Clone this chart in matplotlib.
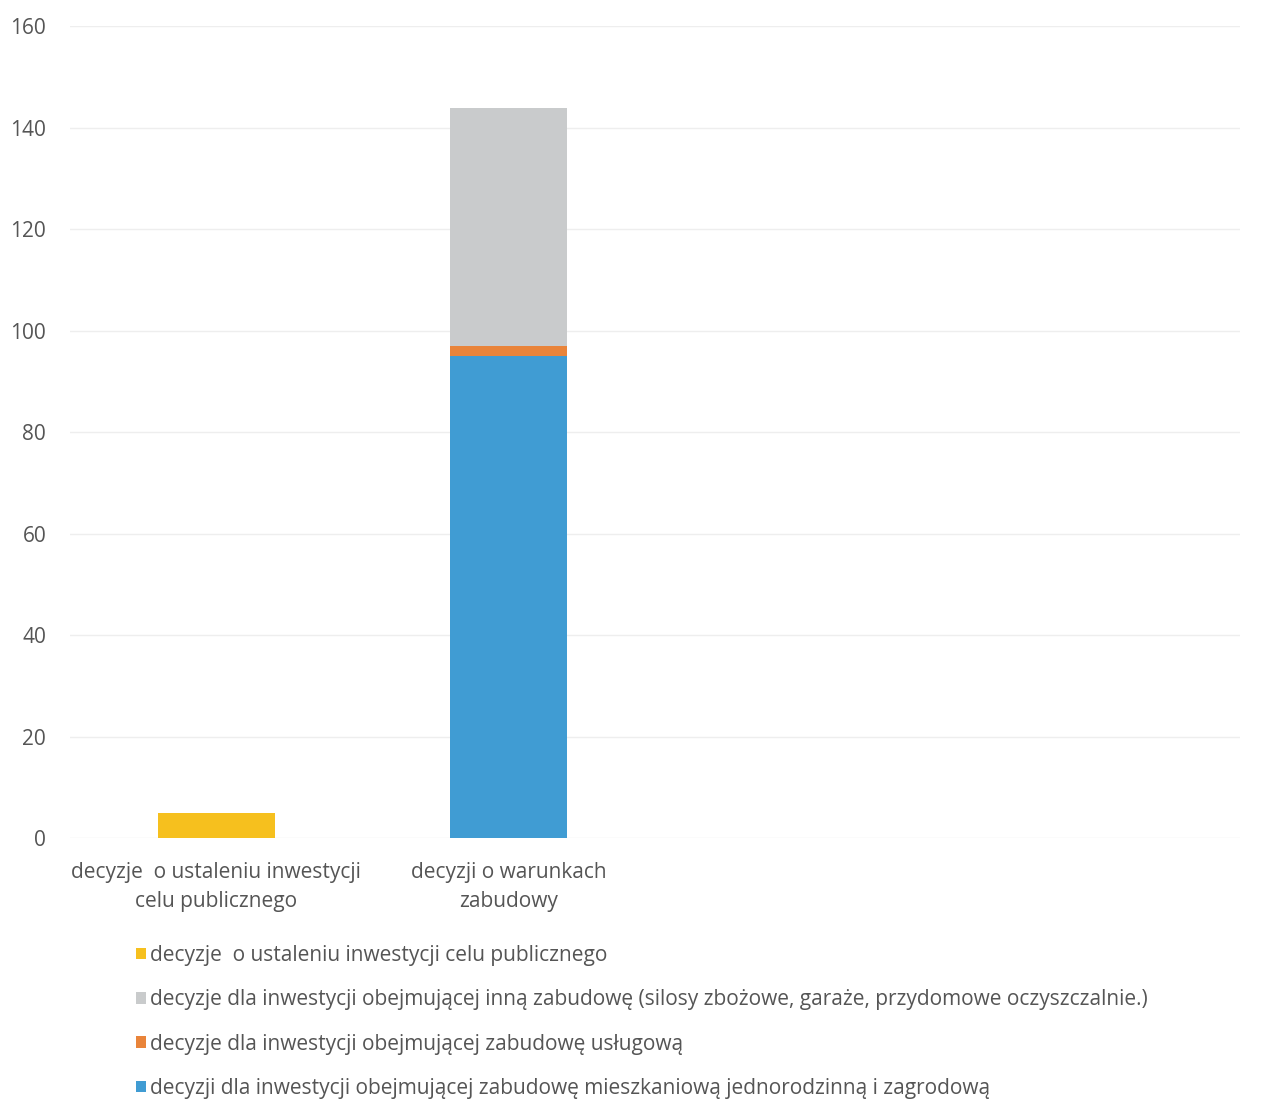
import matplotlib.pyplot as plt
import numpy as np

categories = ['decyzje  o ustaleniu inwestycji\ncelu publicznego',
              'decyzji o warunkach\nzabudowy']
yellow_vals = [5, 0]
blue_vals = [0, 95]
orange_vals = [0, 2]
gray_vals = [0, 47]

lbl_yellow = 'decyzje  o ustaleniu inwestycji celu publicznego'
lbl_gray = 'decyzje dla inwestycji obejmującej inną zabudowę (silosy zbożowe, garaże, przydomowe oczyszczalnie.)'
lbl_orange = 'decyzje dla inwestycji obejmującej zabudowę usługową'
lbl_blue = 'decyzji dla inwestycji obejmującej zabudowę mieszkaniową jednorodzinną i zagrodową'

plt.rcParams['font.family'] = ['Open Sans', 'DejaVu Sans']
txt = '#555555'

fig = plt.figure(figsize=(12.7, 11), dpi=100)
ax = fig.add_axes([0.055, 0.238, 0.921, 0.738])

x = np.arange(len(categories))
w = 0.4
b_y = ax.bar(x, yellow_vals, w, color='#F6C01E')
b_b = ax.bar(x, blue_vals, w, bottom=yellow_vals, color='#409CD3')
bot = np.array(yellow_vals) + np.array(blue_vals)
b_o = ax.bar(x, orange_vals, w, bottom=bot, color='#E9843A')
bot = bot + np.array(orange_vals)
b_g = ax.bar(x, gray_vals, w, bottom=bot, color='#C9CBCC')

ax.set_xlim(-0.5, 3.5)
ax.set_ylim(0, 160)
ax.set_yticks(range(0, 161, 20))
ax.set_xticks(x)
ax.set_xticklabels(categories, linespacing=1.5)
ax.yaxis.grid(True, color='#eeeeee', lw=1)
ax.set_axisbelow(True)
for s in ax.spines.values():
    s.set_visible(False)
ax.tick_params(length=0, labelsize=15, labelcolor=txt)
ax.tick_params(axis='y', pad=17)
ax.tick_params(axis='x', pad=17)

fig.legend([b_y, b_g, b_o, b_b], [lbl_yellow, lbl_gray, lbl_orange, lbl_blue],
           loc='upper left', bbox_to_anchor=(0.092, 0.158), frameon=False,
           fontsize=15, labelcolor=txt, handlelength=0.5, handleheight=0.5,
           handletextpad=0.2, labelspacing=1.12)

plt.savefig('out.png')
